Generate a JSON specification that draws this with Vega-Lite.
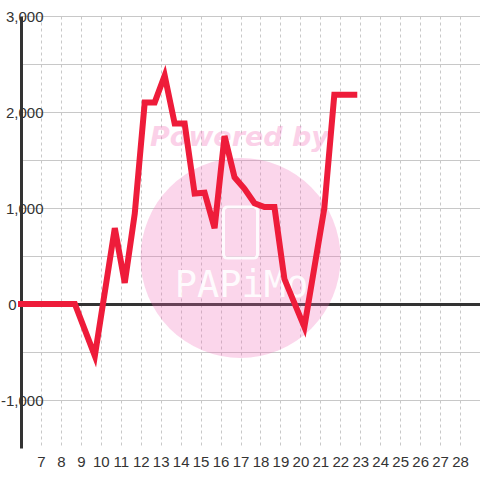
{
  "$schema": "https://vega.github.io/schema/vega-lite/v6.json",
  "width": 459,
  "height": 432,
  "autosize": {"type": "none"},
  "padding": {"left": 21, "top": 16, "right": 0, "bottom": 32},
  "background": "white",
  "config": {"view": {"stroke": null}, "font": "Liberation Sans"},
  "encoding": {
    "x": {
      "field": "day",
      "type": "quantitative",
      "scale": {"domain": [6, 29], "nice": false, "zero": false},
      "axis": {
        "values": [7, 8, 9, 10, 11, 12, 13, 14, 15, 16, 17, 18, 19, 20, 21, 22, 23, 24, 25, 26, 27, 28],
        "format": "d",
        "domain": false,
        "ticks": false,
        "labelPadding": 6,
        "labelFontSize": 15,
        "labelColor": "#333333",
        "labelFlush": false,
        "labelOverlap": false,
        "gridColor": "#c8c8c8",
        "gridDash": [3, 3],
        "title": null
      }
    },
    "y": {
      "field": "value",
      "type": "quantitative",
      "scale": {"domain": [-1500, 3000], "nice": false, "zero": false},
      "axis": {
        "values": [-1000, -500, 0, 500, 1000, 1500, 2000, 2500, 3000],
        "labelExpr": "datum.value % 1000 === 0 ? replace(format(datum.value, ','), '\u2212', '-') : ''",
        "domain": true,
        "domainColor": "#333333",
        "domainWidth": 3,
        "ticks": false,
        "labelAlign": "right",
        "labelPadding": {"condition": {"test": "datum.value === 0", "value": 5}, "value": -22},
        "labelFontSize": 15,
        "labelColor": "#333333",
        "labelOverlap": false,
        "gridColor": {"condition": {"test": "datum.value === 0", "value": "#333333"}, "value": "#c8c8c8"},
        "gridWidth": {"condition": {"test": "datum.value === 0", "value": 3}, "value": 1},
        "title": null
      }
    }
  },
  "layer": [
    {
      "data": {"values": [{"day": 17, "value": 480}]},
      "mark": {"type": "point", "shape": "circle", "filled": true, "size": 40000, "color": "#f26bb6", "opacity": 0.28}
    },
    {
      "data": {"values": [{"day": 17, "value": 745}]},
      "mark": {"type": "point", "shape": "M -0.5 -1 L 0.5 -1 Q 0.667 -1 0.667 -0.84 L 0.667 0.84 Q 0.667 1 0.5 1 L -0.5 1 Q -0.667 1 -0.667 0.84 L -0.667 -0.84 Q -0.667 -1 -0.5 -1 Z", "filled": false, "size": 2601, "stroke": "#ffffff", "strokeWidth": 3, "opacity": 0.9}
    },
    {
      "data": {"values": [{"day": 16.95, "value": 1650, "label": "Powered by"}]},
      "mark": {"type": "text", "font": "DejaVu Sans", "fontWeight": "bold", "fontStyle": "italic", "fontSize": 27, "align": "center", "baseline": "alphabetic", "color": "#f26bb6", "opacity": 0.3},
      "encoding": {"text": {"field": "label"}}
    },
    {
      "data": {"values": [{"day": 17.05, "value": 190, "label": "PAPiMo"}]},
      "mark": {"type": "text", "font": "DejaVu Sans Mono", "fontSize": 37, "align": "center", "baseline": "middle", "color": "#ffffff", "opacity": 0.9},
      "encoding": {"text": {"field": "label"}}
    },
    {
      "data": {
        "values": [
          {"day": 6.0, "value": 0},
          {"day": 6.7, "value": 0},
          {"day": 7.2, "value": 0},
          {"day": 7.7, "value": 0},
          {"day": 8.2, "value": 0},
          {"day": 8.7, "value": 0},
          {"day": 9.7, "value": -540},
          {"day": 10.7, "value": 790},
          {"day": 11.2, "value": 220},
          {"day": 11.7, "value": 940},
          {"day": 12.2, "value": 2100},
          {"day": 12.7, "value": 2100},
          {"day": 13.2, "value": 2380},
          {"day": 13.7, "value": 1880},
          {"day": 14.2, "value": 1880},
          {"day": 14.7, "value": 1150},
          {"day": 15.2, "value": 1160},
          {"day": 15.7, "value": 790},
          {"day": 16.2, "value": 1750},
          {"day": 16.7, "value": 1320},
          {"day": 17.2, "value": 1200},
          {"day": 17.7, "value": 1050},
          {"day": 18.2, "value": 1010},
          {"day": 18.7, "value": 1010},
          {"day": 19.2, "value": 260},
          {"day": 20.2, "value": -240},
          {"day": 21.2, "value": 1000},
          {"day": 21.7, "value": 2180},
          {"day": 22.2, "value": 2180},
          {"day": 22.7, "value": 2180}
        ]
      },
      "mark": {"type": "line", "color": "#ee1c3a", "strokeWidth": 6, "strokeCap": "square", "strokeJoin": "miter", "clip": false}
    }
  ]
}
